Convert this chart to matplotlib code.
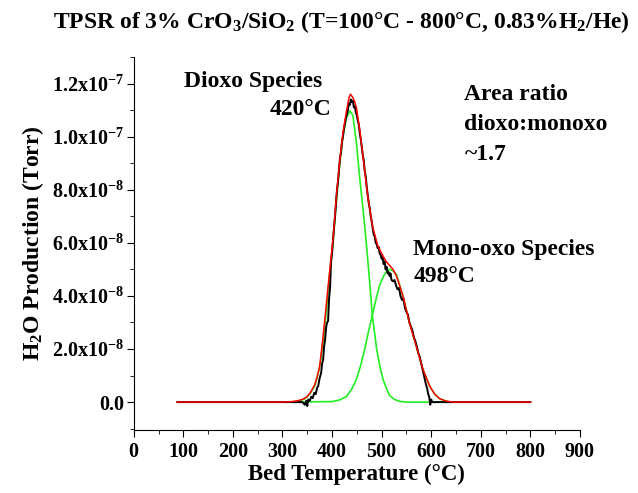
import numpy as np
import matplotlib
matplotlib.use("Agg")
import matplotlib.pyplot as plt
from matplotlib.ticker import MultipleLocator

plt.rcParams['font.family'] = ['Liberation Serif', 'DejaVu Serif']
plt.rcParams['font.weight'] = 'bold'
plt.rcParams['mathtext.fontset'] = 'custom'
plt.rcParams['mathtext.rm'] = 'Liberation Serif:bold'
plt.rcParams['mathtext.it'] = 'Liberation Serif:italic:bold'
plt.rcParams['mathtext.bf'] = 'Liberation Serif:bold'
plt.rcParams['mathtext.default'] = 'rm'

# measured signal (units of 1e-8 Torr)
data_T = [88, 200, 300, 340, 345, 348, 350, 352, 355, 358, 361, 364, 367, 370, 372, 375,
          378, 380, 382, 384, 386, 388, 390, 392, 394, 396, 398, 400, 402, 404, 406, 408,
          410, 412, 414, 416, 418, 420, 422, 424, 426, 428, 430, 432, 434, 436, 438, 440,
          442, 444, 446, 448, 450, 452, 454, 456, 458, 460, 462, 464, 466, 468, 470, 472,
          474, 476, 478, 480, 482, 484, 486, 488, 490, 492, 494, 496, 498, 500, 502, 504,
          506, 508, 510, 512, 514, 516, 518, 520, 523, 526, 529, 532, 535, 538, 541, 544,
          547, 550, 553, 556, 559, 562, 565, 568, 571, 574, 577, 580, 583, 586, 589, 592,
          594, 596, 598, 600, 602, 700, 800]
data_y = [0.0, 0.0, 0.0, 0.0, -0.1, 0.05, -0.15, 0.1, 0.05, 0.2, 0.15, 0.35, 0.3, 0.55, 0.6, 0.9,
          1.1, 1.45, 1.6, 2.1, 2.35, 2.8, 3.0, 3.05, 3.9, 4.3, 5.3, 5.6, 6.1, 6.6, 7.0, 7.5,
          8.0, 8.3, 8.75, 9.2, 9.4, 9.8, 10.0, 10.3, 10.5, 10.7, 10.85, 11.0, 11.25, 11.2, 11.4, 11.3,
          11.35, 11.1, 11.15, 10.9, 10.8, 10.6, 10.45, 10.1, 9.9, 9.6, 9.3, 9.1, 8.7, 8.5, 8.1, 7.8,
          7.5, 7.3, 7.0, 6.8, 6.55, 6.3, 6.25, 6.0, 5.95, 5.8, 5.85, 5.6, 5.55, 5.4, 5.45, 5.2,
          5.3, 5.0, 5.1, 4.85, 4.9, 4.75, 4.85, 4.6, 4.55, 4.6, 4.4, 4.25, 4.3, 4.0, 3.85, 3.9,
          3.55, 3.4, 3.3, 3.0, 2.85, 2.7, 2.45, 2.3, 2.1, 1.85, 1.7, 1.45, 1.2, 0.95, 0.7, 0.5,
          0.3, 0.2, -0.1, 0.1, 0.0, 0.0, 0.0]

# total fit
fit_T = [88, 300, 320, 330, 340, 348, 356, 365, 370, 375, 381, 388, 395, 402, 409, 415,
         422, 429, 434, 437, 441, 445, 449, 456, 464, 472, 482, 492, 500, 509, 516, 523,
         530, 543, 556, 570, 583, 597, 607, 617, 630, 645, 800]
fit_y = [0, 0, 0.02, 0.05, 0.1, 0.18, 0.35, 0.65, 0.95, 1.35, 2.3, 3.6, 4.9, 6.15, 7.8, 9.0,
         10.15, 10.95, 11.45, 11.6, 11.5, 11.35, 11.1, 10.25, 9.0, 7.75, 6.6, 5.9, 5.6, 5.3, 5.15, 5.0,
         4.75, 4.0, 3.0, 2.1, 1.25, 0.6, 0.3, 0.13, 0.04, 0.0, 0]

# dioxo component
dioxo_T = [311, 330, 345, 355, 365, 375, 382, 389, 395, 402, 409, 415, 422, 429, 436, 442,
           449, 456, 464, 470, 476, 481, 490, 497, 503, 510, 516, 526, 536, 550, 638]
dioxo_y = [0.0, 0.03, 0.12, 0.3, 0.6, 1.3, 2.3, 3.5, 4.8, 6.0, 7.6, 8.9, 10.0, 10.7, 10.97, 10.8,
           9.8, 8.4, 7.0, 5.8, 4.5, 3.3, 2.0, 1.3, 0.85, 0.5, 0.25, 0.1, 0.03, 0.0, 0.0]

# mono-oxo component
mono_T = [311, 400, 415, 429, 440, 449, 458, 466, 474, 481, 489, 496, 504, 511, 516, 523,
          530, 543, 556, 570, 583, 597, 607, 617, 628, 638]
mono_y = [0, 0.02, 0.08, 0.21, 0.5, 0.85, 1.4, 2.0, 2.7, 3.25, 3.9, 4.4, 4.75, 4.95, 5.0, 4.95,
          4.8, 4.0, 3.0, 2.1, 1.25, 0.6, 0.3, 0.13, 0.05, 0.0]

ytick_vals = [0, 2e-8, 4e-8, 6e-8, 8e-8, 1e-7, 1.2e-7]
ytick_labels = ['0.0', '2.0x10$^{-8}$', '4.0x10$^{-8}$', '6.0x10$^{-8}$',
                '8.0x10$^{-8}$', '1.0x10$^{-7}$', '1.2x10$^{-7}$']

fig = plt.figure(figsize=(6.38, 4.93), dpi=100)
ax = fig.add_axes([0.2096, 0.1278, 0.6994, 0.7566])

scale = 1e-8
ax.plot(dioxo_T, np.array(dioxo_y) * scale, color='#22ee22', lw=1.2, zorder=2)
ax.plot(mono_T, np.array(mono_y) * scale, color='#22ee22', lw=1.2, zorder=2)
ax.plot(data_T, np.array(data_y) * scale, color='black', lw=1.4, zorder=3)
ax.plot(fit_T, np.array(fit_y) * scale, color='red', lw=1.1, zorder=4)

ax.set_xlim(0, 900)
ax.set_ylim(-1.05e-8, 1.3e-7)
ax.spines['top'].set_visible(False)
ax.spines['right'].set_visible(False)
ax.xaxis.set_major_locator(MultipleLocator(100))
ax.xaxis.set_minor_locator(MultipleLocator(50))
ax.set_yticks(ytick_vals)
ax.set_yticklabels(ytick_labels)
ax.yaxis.set_minor_locator(MultipleLocator(1e-8))
ax.tick_params(axis='x', which='major', length=5, labelsize=14.5, pad=4)
ax.tick_params(axis='y', which='major', length=5, labelsize=14.5, pad=2)
ax.tick_params(which='minor', length=3)
for lab in ax.get_xticklabels() + ax.get_yticklabels():
    lab.set_fontweight('bold')

ax.set_xlabel('Bed Temperature (°C)', fontsize=16.5, fontweight='bold', labelpad=1)
ax.set_ylabel('H$_2$O Production (Torr)', fontsize=17, fontweight='bold', labelpad=4)
fig.text(0.535, 0.955, 'TPSR of 3% CrO$_3$/SiO$_2$ (T=100°C - 800°C, 0.83%H$_2$/He)',
         ha='center', va='center', fontsize=17, fontweight='bold')

fs = 17
ax.text(101, 12.09e-8, 'Dioxo Species', fontsize=fs, fontweight='bold', va='center')
ax.text(274, 11.03e-8, '420°C', fontsize=fs, fontweight='bold', va='center')
ax.text(667, 11.6e-8, 'Area ratio', fontsize=fs, fontweight='bold', va='center')
ax.text(667, 10.46e-8, 'dioxo:monoxo', fontsize=fs, fontweight='bold', va='center')
ax.text(667, 9.33e-8, '~1.7', fontsize=fs, fontweight='bold', va='center')
ax.text(564, 5.75e-8, 'Mono-oxo Species', fontsize=fs, fontweight='bold', va='center')
ax.text(564, 4.73e-8, '498°C', fontsize=fs, fontweight='bold', va='center')

fig.savefig('out.png', dpi=100)
